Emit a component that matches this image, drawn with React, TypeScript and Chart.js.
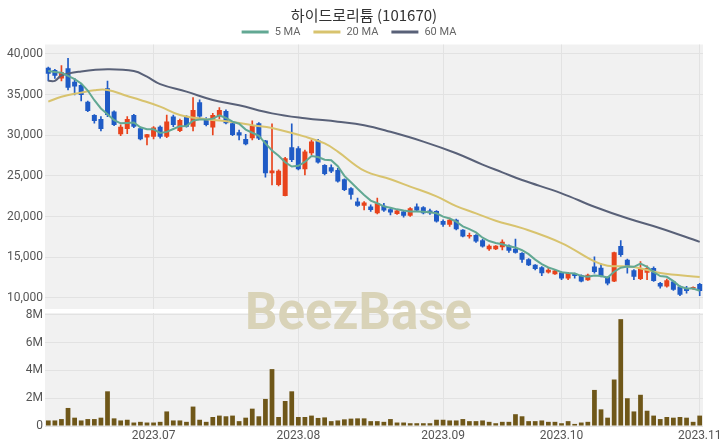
import React, { useEffect, useRef } from 'react';
import { Chart, registerables } from 'chart.js';

Chart.register(...registerables);

const TITLE = '하이드로리튬 (101670)';

const dates = [
  '2023-06-09', '2023-06-12', '2023-06-13', '2023-06-14', '2023-06-15', '2023-06-16', '2023-06-19', '2023-06-20',
  '2023-06-21', '2023-06-22', '2023-06-23', '2023-06-26', '2023-06-27', '2023-06-28', '2023-06-29', '2023-06-30',
  '2023-07-03', '2023-07-04', '2023-07-05', '2023-07-06', '2023-07-07', '2023-07-10', '2023-07-11', '2023-07-12',
  '2023-07-13', '2023-07-14', '2023-07-17', '2023-07-18', '2023-07-19', '2023-07-20', '2023-07-21', '2023-07-24',
  '2023-07-25', '2023-07-26', '2023-07-27', '2023-07-28', '2023-07-29', '2023-07-31',
  '2023-08-01', '2023-08-02', '2023-08-03', '2023-08-04', '2023-08-07', '2023-08-08', '2023-08-09', '2023-08-10',
  '2023-08-11', '2023-08-14', '2023-08-16', '2023-08-17', '2023-08-18', '2023-08-21', '2023-08-22', '2023-08-23',
  '2023-08-24', '2023-08-25', '2023-08-28', '2023-08-29', '2023-08-30', '2023-08-31',
  '2023-09-01', '2023-09-04', '2023-09-05', '2023-09-06', '2023-09-07', '2023-09-08', '2023-09-11', '2023-09-12',
  '2023-09-13', '2023-09-14', '2023-09-15', '2023-09-18', '2023-09-19', '2023-09-20', '2023-09-21', '2023-09-22',
  '2023-09-25', '2023-09-26',
  '2023-10-02', '2023-10-03', '2023-10-04', '2023-10-05', '2023-10-06', '2023-10-10', '2023-10-11', '2023-10-12',
  '2023-10-13', '2023-10-16', '2023-10-17', '2023-10-18', '2023-10-19', '2023-10-20', '2023-10-23', '2023-10-24',
  '2023-10-25', '2023-10-26', '2023-10-27', '2023-10-30', '2023-10-31',
  '2023-11-01',
];

const openP = [
  38320, 38030, 37000, 38240, 36600, 36190, 34140, 32500, 32000, 35780,
  32920, 30130, 30780, 32500, 30870, 29720, 29840, 31070, 29840, 32300,
  30540, 32300, 31070, 34060, 32010, 30950, 32300, 33000, 31480, 30380,
  29560, 29640, 31480, 29350, 25340, 23900, 22550, 28530, 28410, 25830,
  27800, 29350, 26360, 26080, 25750, 24600, 23500, 21860, 21330, 21250,
  20430, 21330, 20920, 20340, 20630, 20100, 21250, 21160, 20750, 20710,
  19480, 18990, 19610, 18380, 17560, 17760, 17100, 15990, 16000, 16250,
  16450, 16050, 15520, 14770, 14080, 13790, 13140, 12920, 13130, 12400,
  13000, 12800, 12180, 13870, 13720, 12570, 12030, 16400, 14690, 13420,
  12320, 13100, 13700, 11830, 11420, 12030, 11420, 11210, 11210, 11720,
];
const highP = [
  38400, 38100, 38570, 39470, 37000, 36400, 34200, 32550, 32300, 36680,
  33000, 31280, 32300, 32580, 30900, 30130, 31070, 31160, 32500, 32500,
  32010, 32420, 34630, 34350, 32170, 32710, 33410, 33120, 31560, 30660,
  30130, 31770, 31560, 29400, 31400, 25750, 27300, 31400, 28620, 28200,
  29440, 29520, 26400, 26360, 25950, 24650, 23580, 22270, 21860, 21450,
  22270, 21650, 21040, 20830, 20750, 21120, 21570, 21250, 20920, 20750,
  19610, 19810, 19700, 18400, 17970, 17800, 17200, 16540, 16450, 17150,
  16540, 17230, 15590, 14850, 14120, 13870, 13670, 13460, 13220, 13140,
  13050, 12850, 12930, 15050, 14200, 12600, 15640, 17050, 14770, 13500,
  14490, 13960, 13830, 11910, 12320, 12070, 11500, 11420, 11380, 11800,
];
const lowP = [
  36700, 37000, 36700, 35580, 34960, 34230, 32920, 31480, 30540, 32300,
  31200, 29970, 30210, 30950, 29430, 28820, 29560, 29640, 29720, 31070,
  30460, 30990, 30540, 32090, 31160, 30050, 32010, 31400, 29970, 29430,
  28820, 29430, 29480, 24850, 23900, 23780, 22550, 26770, 25750, 25130,
  27590, 26570, 25130, 25420, 24230, 23210, 22150, 21250, 20830, 20630,
  20340, 20630, 20220, 20270, 19930, 20020, 20630, 20340, 20270, 19320,
  18790, 18790, 18380, 17500, 17350, 16820, 16250, 15840, 15950, 15920,
  15590, 15510, 14370, 13960, 13460, 12730, 13050, 12890, 12240, 12240,
  12440, 11980, 12150, 13050, 12580, 11620, 12000, 15100, 13060, 12240,
  12240, 12240, 12030, 11210, 11330, 10930, 10270, 10600, 11050, 10270,
];
const closeP = [
  37580, 37340, 37750, 35860, 35990, 34960, 33000, 31770, 30780, 32500,
  31280, 31070, 32000, 31070, 29520, 30130, 30950, 29840, 31690, 31280,
  31890, 31070, 33120, 32300, 31280, 32500, 33120, 31480, 30050, 29970,
  28900, 31200, 29600, 25340, 25670, 25630, 27180, 26980, 25830, 28000,
  29230, 26650, 25260, 25550, 24320, 23290, 22680, 21330, 21740, 20830,
  21650, 20750, 20510, 20750, 20100, 21040, 20750, 20430, 20430, 19400,
  18990, 19610, 18460, 17560, 17760, 16950, 16330, 16410, 16410, 16900,
  15800, 15550, 14690, 14020, 13550, 13050, 13460, 13380, 12400, 13080,
  12700, 12030, 12850, 13200, 12700, 11780, 15620, 15280, 13900, 12600,
  13670, 13700, 12080, 11400, 12180, 11010, 10390, 10850, 11340, 10850,
];

// volume, millions of shares
const volumeM = [
  0.4, 0.4, 0.5, 1.3, 0.6, 0.4, 0.5, 0.5, 0.6, 2.5,
  0.55, 0.4, 0.45, 0.25, 0.3, 0.25, 0.25, 0.3, 1.05, 0.4,
  0.4, 0.3, 1.4, 0.45, 0.3, 0.65, 0.75, 0.7, 0.75, 0.35,
  0.6, 1.25, 0.7, 1.95, 4.1, 0.65, 1.8, 2.5, 0.65, 0.65,
  0.75, 0.58, 0.62, 0.35, 0.4, 0.48, 0.53, 0.55, 0.55, 0.35,
  0.35, 0.3, 0.5, 0.25, 0.25, 0.2, 0.2, 0.2, 0.2, 0.45,
  0.45, 0.4, 0.4, 0.5, 0.35, 0.35, 0.4, 0.3, 0.2, 0.3,
  0.3, 0.85, 0.7, 0.35, 0.35, 0.4, 0.3, 0.3, 0.2, 0.35,
  0.15, 0.25, 0.3, 2.6, 1.2, 0.6, 3.35, 7.7, 2.0, 1.05,
  2.25, 1.1, 0.75, 0.5, 0.65, 0.6, 0.65, 0.6, 0.3, 0.75,
];

// first four 5-day averages (need earlier history)
const ma5Head = [37900, 37800, 37700, 37300];

// [category index, value]
const ma20Points: [number, number][] = [
  [0, 34140], [2, 34750], [5, 35250], [7, 35550], [9, 35580], [12, 34840], [14, 34350], [17, 33530],
  [20, 32500], [24, 31980], [28, 31650], [31, 31250], [34, 30900], [39, 29840], [42, 29000], [44, 28000],
  [48, 25650], [52, 24600], [55, 23700], [59, 22500], [62, 21300], [65, 20400], [68, 19500], [72, 18590],
  [78, 16750], [83, 14500], [85, 13970], [89, 13810], [93, 13070], [99, 12580],
];
const ma60Points: [number, number][] = [
  [0, 36700], [1, 36700], [2, 37350], [5, 37850], [9, 38120], [13, 37900], [15, 37210], [17, 36300],
  [21, 35370], [25, 34350], [29, 33700], [34, 32700], [39, 32100], [44, 31680], [48, 31250], [52, 30430],
  [57, 29230], [62, 27800], [66, 26400], [69, 25450], [72, 24500], [78, 22870], [83, 21220], [88, 19800],
  [93, 18580], [99, 16900],
];

const priceTicks = [10000, 15000, 20000, 25000, 30000, 35000, 40000];
const volumeTicks = [0, 2, 4, 6, 8];
const legendLabels = ['5 MA', '20 MA', '60 MA'];

const UP = '#e8431c';
const DOWN = '#1f5bc6';
const VOL = '#6f5719';
const C5 = '#62a893';
const C20 = '#d8c36e';
const C60 = '#596178';
const PANEL_BG = '#f1f1f1';
const GRID = '#e2e2e2';
const TICK = '#555555';
const FONT = 'Roboto, "Noto Sans", sans-serif';

function sparse(points: [number, number][], n: number) {
  const arr: (number | null)[] = new Array(n).fill(null);
  points.forEach(([i, v]) => { arr[i] = v; });
  return arr;
}

const decorPlugin = {
  id: 'decor',
  beforeDraw(chart: any) {
    const { ctx, chartArea: a } = chart;
    ctx.save();
    ctx.fillStyle = '#ffffff';
    ctx.fillRect(0, 0, chart.width, chart.height);
    ctx.fillStyle = PANEL_BG;
    ctx.fillRect(a.left, a.top, a.right - a.left, a.bottom - a.top);
    ctx.restore();
  },
  beforeDatasetsDraw(chart: any) {
    const { ctx, chartArea: a, scales } = chart;
    const yb = scales.y.bottom;
    ctx.save();
    ctx.fillStyle = '#ffffff';
    ctx.fillRect(a.left, yb - 2, a.right - a.left, 4);
    ctx.restore();
  },
  afterDraw(chart: any) {
    const { ctx } = chart;
    ctx.save();
    // title
    ctx.fillStyle = '#333333';
    ctx.font = '15px "Noto Sans CJK KR", "Noto Sans", sans-serif';
    ctx.textAlign = 'center';
    ctx.textBaseline = 'middle';
    ctx.fillText(TITLE, 364, 15);
    // legend
    ctx.font = '11px ' + FONT;
    const colors = [C5, C20, C60];
    const lineW = 27, gap = 6, itemGap = 13;
    const widths = legendLabels.map((t) => lineW + gap + ctx.measureText(t).width);
    const total = widths.reduce((s, w) => s + w, 0) + itemGap * (widths.length - 1);
    let x = 349 - total / 2;
    const ly = 32;
    legendLabels.forEach((t, k) => {
      ctx.fillStyle = colors[k];
      ctx.fillRect(x, ly - 1.5, lineW, 3);
      ctx.fillStyle = '#666666';
      ctx.textAlign = 'left';
      ctx.fillText(t, x + lineW + gap, ly + 0.5);
      x += widths[k] + itemGap;
    });
    // watermark
    ctx.fillStyle = '#d9d3b8';
    ctx.font = 'bold 51px Roboto, "Open Sans", sans-serif';
    ctx.textAlign = 'center';
    ctx.textBaseline = 'alphabetic';
    ctx.fillText('BeezBase', 358.5, 329);
    ctx.restore();
  },
};

export default function App() {
  const ref = useRef<HTMLCanvasElement | null>(null);

  useEffect(() => {
    if (!ref.current) return;
    const n = dates.length;
    const isUp = closeP.map((c, i) => c >= openP[i]);
    const candleColors = isUp.map((u) => (u ? UP : DOWN));
    const bodies = openP.map((o, i) => [o, closeP[i]]);
    const wicks = lowP.map((l, i) => [l, highP[i]]);
    const ma5 = closeP.map((_, i) => {
      if (i < 4) return ma5Head[i];
      let s = 0;
      for (let k = i - 4; k <= i; k++) s += closeP[k];
      return s / 5;
    });
    const monthStarts: number[] = [];
    dates.forEach((d, i) => {
      if (i > 0 && d.slice(0, 7) !== dates[i - 1].slice(0, 7)) monthStarts.push(i);
    });

    const tickFont = { family: FONT, size: 12 };

    const chart = new Chart(ref.current, {
      type: 'bar',
      data: {
        labels: dates,
        datasets: [
          { type: 'line', label: '5 MA', data: ma5, borderColor: C5, backgroundColor: C5, borderWidth: 2, pointRadius: 0, tension: 0, yAxisID: 'y', order: 0 } as any,
          { type: 'line', label: '20 MA', data: sparse(ma20Points, n), borderColor: C20, backgroundColor: C20, borderWidth: 2, pointRadius: 0, tension: 0.4, spanGaps: true, yAxisID: 'y', order: 0 } as any,
          { type: 'line', label: '60 MA', data: sparse(ma60Points, n), borderColor: C60, backgroundColor: C60, borderWidth: 2, pointRadius: 0, tension: 0.4, spanGaps: true, yAxisID: 'y', order: 0 } as any,
          { type: 'bar', label: 'wick', data: wicks, backgroundColor: candleColors, barThickness: 1, grouped: false, yAxisID: 'y', order: 2 } as any,
          { type: 'bar', label: 'candle', data: bodies, backgroundColor: candleColors, barPercentage: 0.76, categoryPercentage: 1, minBarLength: 1, grouped: false, yAxisID: 'y', order: 1 } as any,
          { type: 'bar', label: 'volume', data: volumeM, backgroundColor: VOL, barPercentage: 0.72, categoryPercentage: 1, grouped: false, yAxisID: 'yv', order: 3 } as any,
        ],
      },
      options: {
        animation: false,
        responsive: false,
        devicePixelRatio: 1,
        events: [],
        layout: { padding: { top: 44.5, right: 17, bottom: 0, left: 0 } },
        plugins: { legend: { display: false }, title: { display: false }, tooltip: { enabled: false } },
        scales: {
          x: {
            type: 'category',
            offset: true,
            border: { display: false },
            grid: { offset: false, color: GRID, drawTicks: false },
            ticks: {
              autoSkip: false,
              maxRotation: 0,
              minRotation: 0,
              padding: 3,
              color: TICK,
              font: tickFont,
              callback: (v: any) => {
                const d = dates[v as number];
                return d.slice(0, 4) + '.' + d.slice(5, 7);
              },
            },
            afterBuildTicks: (scale: any) => {
              scale.ticks = monthStarts.map((i) => ({ value: i }));
            },
            afterFit: (scale: any) => {
              scale.height = 22;
              scale.paddingLeft = 0;
              scale.paddingRight = 0;
            },
          },
          yv: {
            type: 'linear',
            position: 'left',
            stack: 'panes',
            stackWeight: 115,
            weight: 1,
            min: 0,
            max: 8.288,
            border: { display: false },
            grid: { color: GRID, drawTicks: false },
            ticks: {
              autoSkip: false,
              padding: 2,
              color: TICK,
              font: tickFont,
              callback: (v: any) => (v === 0 ? '0' : v + 'M'),
            },
            afterBuildTicks: (scale: any) => {
              scale.ticks = volumeTicks.map((v) => ({ value: v }));
            },
            afterFit: (scale: any) => { scale.width = 45; },
          },
          y: {
            type: 'linear',
            position: 'left',
            stack: 'panes',
            stackWeight: 266.5,
            weight: 2,
            min: 8400,
            max: 41168,
            border: { display: false },
            grid: { color: GRID, drawTicks: false },
            ticks: {
              autoSkip: false,
              padding: 2,
              color: TICK,
              font: tickFont,
              callback: (v: any) => Number(v).toLocaleString('en-US'),
            },
            afterBuildTicks: (scale: any) => {
              scale.ticks = priceTicks.map((v) => ({ value: v }));
            },
            afterFit: (scale: any) => { scale.width = 45; },
          },
        },
      } as any,
      plugins: [decorPlugin],
    });
    return () => chart.destroy();
  }, []);

  return (
    <div style={{ position: 'fixed', left: 0, top: 0, width: 720, height: 448, background: '#fff' }}>
      <canvas ref={ref} width={720} height={448} style={{ width: 720, height: 448, display: 'block' }} />
    </div>
  );
}
